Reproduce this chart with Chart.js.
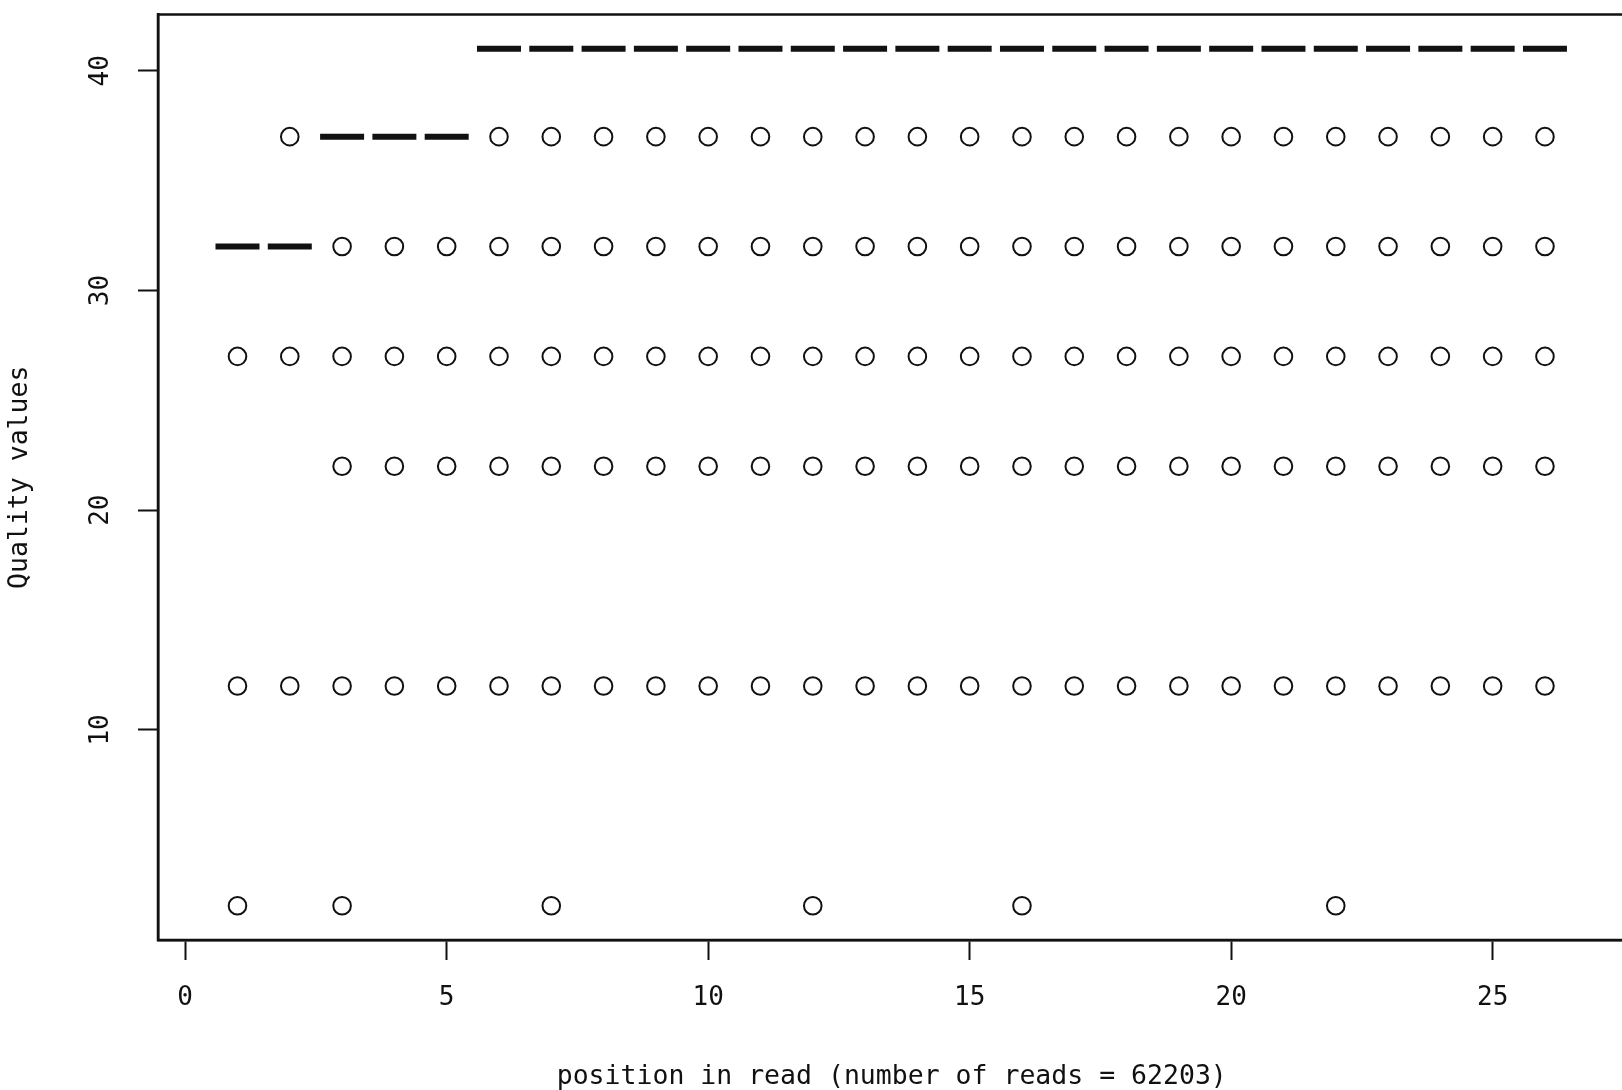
<!DOCTYPE html>
<html><head><meta charset="utf-8">
<script src="https://cdn.jsdelivr.net/npm/chart.js@4/dist/chart.umd.min.js"></script>
<style>html,body{margin:0;padding:0;background:#fff;overflow:hidden;}canvas{display:block;}</style>
</head><body>
<canvas id="c" width="1640" height="1090" style="width:1640px;height:1090px"></canvas>
<script>
// ---- data ----
const positions = [1,2,3,4,5,6,7,8,9,10,11,12,13,14,15,16,17,18,19,20,21,22,23,24,25,26];
const medianQuality = [32,32,37,37,37,41,41,41,41,41,41,41,41,41,41,41,41,41,41,41,41,41,41,41,41,41];
const outlierQuality = [
  [27,12,2],          // 1
  [37,27,12],         // 2
  [32,27,22,12,2],    // 3
  [32,27,22,12],      // 4
  [32,27,22,12],      // 5
  [37,32,27,22,12],   // 6
  [37,32,27,22,12,2], // 7
  [37,32,27,22,12],   // 8
  [37,32,27,22,12],   // 9
  [37,32,27,22,12],   // 10
  [37,32,27,22,12],   // 11
  [37,32,27,22,12,2], // 12
  [37,32,27,22,12],   // 13
  [37,32,27,22,12],   // 14
  [37,32,27,22,12],   // 15
  [37,32,27,22,12,2], // 16
  [37,32,27,22,12],   // 17
  [37,32,27,22,12],   // 18
  [37,32,27,22,12],   // 19
  [37,32,27,22,12],   // 20
  [37,32,27,22,12],   // 21
  [37,32,27,22,12,2], // 22
  [37,32,27,22,12],   // 23
  [37,32,27,22,12],   // 24
  [37,32,27,22,12],   // 25
  [37,32,27,22,12]    // 26
];
const xTicks = [0,5,10,15,20,25];
const yTicks = [10,20,30,40];
const xTitle = 'position in read (number of reads = 62203)';
const yTitle = 'Quality values';

// ---- build datasets ----
const medianPoints = positions.map((p,i)=>({x:p,y:medianQuality[i]}));
const outlierPoints = [];
positions.forEach((p,i)=>outlierQuality[i].forEach(v=>outlierPoints.push({x:p,y:v})));

const FONT = "'DejaVu Sans Mono', monospace";
const INK = '#111';

const frame = {
  id:'frame',
  afterDraw(chart){
    const {ctx, chartArea:a} = chart;
    ctx.save();
    ctx.strokeStyle = INK; ctx.lineWidth = 2.5;
    ctx.strokeRect(a.left, a.top, a.right-a.left, a.bottom-a.top);
    ctx.restore();
  }
};

new Chart(document.getElementById('c'), {
  type:'scatter',
  data:{datasets:[
    {label:'median', data:medianPoints, pointStyle:'line', pointRadius:22, pointBorderWidth:6,
     borderColor:INK, backgroundColor:INK, showLine:false},
    {label:'outliers', data:outlierPoints, pointStyle:'circle', pointRadius:8.8, pointBorderWidth:2,
     borderColor:INK, backgroundColor:'rgba(0,0,0,0)', showLine:false}
  ]},
  plugins:[frame],
  options:{
    responsive:false, animation:false, events:[], devicePixelRatio:1,
    layout:{autoPadding:false, padding:{left:0,top:14.5,right:14.5,bottom:0}},
    plugins:{legend:{display:false}, tooltip:{enabled:false}},
    scales:{
      x:{type:'linear', min:-0.52, max:27.54,
        afterBuildTicks(s){ s.ticks = xTicks.map(v=>({value:v})); },
        afterFit(s){ s.height = 150; s.paddingLeft = 0; s.paddingRight = 0; },
        grid:{drawOnChartArea:false, drawTicks:true, tickLength:20, tickColor:INK, tickWidth:2},
        border:{display:true, color:INK, width:2.5},
        ticks:{color:INK, font:{family:FONT, size:26}, padding:23, maxRotation:0, autoSkip:false},
        title:{display:true, text:xTitle, color:INK, font:{family:FONT, size:26.5, lineHeight:1}, padding:{top:0,bottom:0}}
      },
      y:{type:'linear', min:0.44, max:42.56,
        afterBuildTicks(s){ s.ticks = yTicks.map(v=>({value:v})); },
        afterFit(s){ s.width = 158; s.paddingTop = 0; s.paddingBottom = 0; },
        grid:{drawOnChartArea:false, drawTicks:true, tickLength:20, tickColor:INK, tickWidth:2},
        border:{display:true, color:INK, width:2.5},
        ticks:{color:INK, font:{family:FONT, size:26}, padding:21, minRotation:90, maxRotation:90, crossAlign:'center', autoSkip:false},
        title:{display:true, text:yTitle, color:INK, font:{family:FONT, size:26.5, lineHeight:1}, padding:{top:7,bottom:0}}
      }
    }
  }
});
</script>
</body></html>
